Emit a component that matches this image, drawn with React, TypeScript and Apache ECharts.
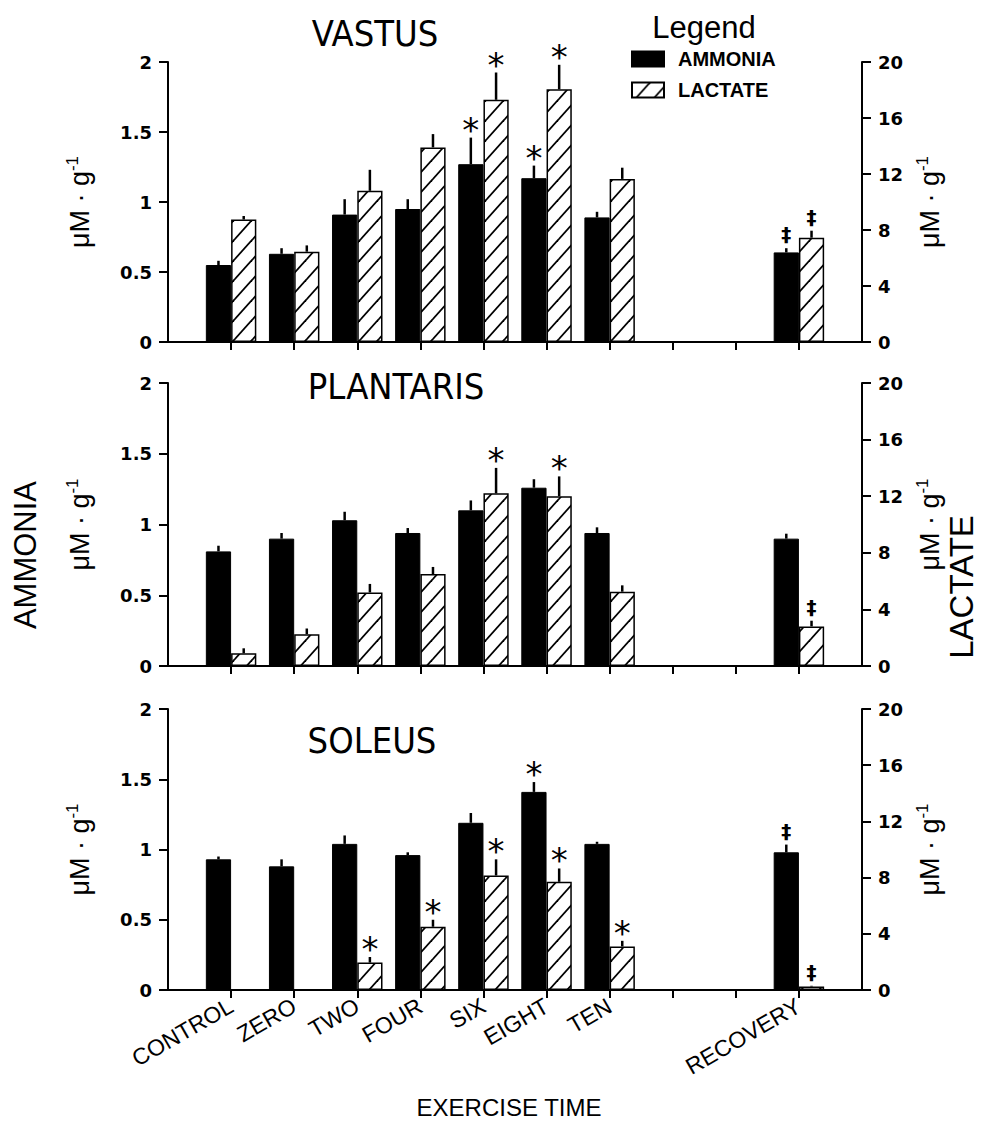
import React, { useEffect, useRef } from "react";
import * as echarts from "echarts";

// ---------- data ----------
const timeLabels = ["CONTROL", "ZERO", "TWO", "FOUR", "SIX", "EIGHT", "TEN", "", "", "RECOVERY"];
const muscles = ["VASTUS", "PLANTARIS", "SOLEUS"];
const ammoniaTicks = [0, 0.5, 1, 1.5, 2];
const lactateTicks = [0, 4, 8, 12, 16, 20];

const vastusAmmonia = [0.55, 0.63, 0.91, 0.95, 1.27, 1.17, 0.89, null, null, 0.64];
const vastusAmmoniaErr = [0.03, 0.04, 0.11, 0.07, 0.19, 0.09, 0.04, null, null, 0.03];
const vastusAmmoniaSig = ["", "", "", "", "*", "*", "", "", "", "‡"];
const vastusLactate = [8.75, 6.45, 10.8, 13.9, 17.3, 18.05, 11.65, null, null, 7.45];
const vastusLactateErr = [0.25, 0.45, 1.5, 0.95, 1.95, 1.75, 0.8, null, null, 0.5];
const vastusLactateSig = ["", "", "", "", "*", "*", "", "", "", "‡"];

const plantarisAmmonia = [0.81, 0.9, 1.03, 0.94, 1.1, 1.26, 0.94, null, null, 0.9];
const plantarisAmmoniaErr = [0.04, 0.04, 0.06, 0.035, 0.07, 0.06, 0.04, null, null, 0.035];
const plantarisAmmoniaSig = ["", "", "", "", "", "", "", "", "", ""];
const plantarisLactate = [0.9, 2.25, 5.2, 6.5, 12.2, 12.0, 5.25, null, null, 2.8];
const plantarisLactateErr = [0.35, 0.4, 0.6, 0.5, 1.8, 1.4, 0.45, null, null, 0.4];
const plantarisLactateSig = ["", "", "", "", "*", "*", "", "", "", "‡"];

const soleusAmmonia = [0.93, 0.88, 1.04, 0.96, 1.19, 1.41, 1.04, null, null, 0.98];
const soleusAmmoniaErr = [0.02, 0.05, 0.06, 0.02, 0.07, 0.07, 0.015, null, null, 0.055];
const soleusAmmoniaSig = ["", "", "", "", "", "*", "", "", "", "‡"];
const soleusLactate = [null, null, 1.95, 4.5, 8.15, 7.7, 3.1, null, null, 0.25];
const soleusLactateErr = [null, null, 0.4, 0.5, 1.15, 0.95, 0.4, null, null, 0.05];
const soleusLactateSig = ["", "", "*", "*", "*", "*", "*", "", "", "‡"];

const ammoniaData = [vastusAmmonia, plantarisAmmonia, soleusAmmonia];
const ammoniaErr = [vastusAmmoniaErr, plantarisAmmoniaErr, soleusAmmoniaErr];
const ammoniaSig = [vastusAmmoniaSig, plantarisAmmoniaSig, soleusAmmoniaSig];
const lactateData = [vastusLactate, plantarisLactate, soleusLactate];
const lactateErr = [vastusLactateErr, plantarisLactateErr, soleusLactateErr];
const lactateSig = [vastusLactateSig, plantarisLactateSig, soleusLactateSig];

// ---------- layout ----------
const GRID_LEFT = 168;
const GRID_WIDTH = 694;
const GRID_TOPS = [62, 383, 709];
const GRID_HEIGHTS = [280, 283, 281];
const TITLE_POS = [
  [375, 33],
  [396, 386],
  [372, 740],
];

const categories = ["", ...timeLabels, ""];
const pad = (a: (number | null)[]) => [null, ...a, null];

function makeHatch() {
  const w = 18;
  const h = 20;
  const c = document.createElement("canvas");
  c.width = w;
  c.height = h;
  const ctx = c.getContext("2d")!;
  ctx.fillStyle = "#fff";
  ctx.fillRect(0, 0, w, h);
  ctx.strokeStyle = "#000";
  ctx.lineWidth = 1.8;
  for (const dx of [-w, 0, w]) {
    ctx.beginPath();
    ctx.moveTo(dx - 2, h + (2 * h) / w);
    ctx.lineTo(dx + w + 2, -(2 * h) / w);
    ctx.stroke();
  }
  return { image: c, repeat: "repeat", imageWidth: w, imageHeight: h };
}

function errSeries(
  vals: (number | null)[],
  errs: (number | null)[],
  sigs: string[],
  side: number,
  p: number,
  yIdx: number
) {
  const items = vals
    .map((v, i) => ({ x: i + 1, v, e: errs[i] || 0, s: sigs[i] }))
    .filter((d) => d.v != null) as { x: number; v: number; e: number; s: string }[];
  return {
    type: "custom",
    xAxisIndex: p,
    yAxisIndex: yIdx,
    z: 5,
    silent: true,
    data: items.map((d) => [d.x, d.v, d.e]),
    renderItem: (params: any, api: any) => {
      const d = items[params.dataIndex];
      const base = api.coord([d.x, d.v]);
      const top = api.coord([d.x, d.v + d.e]);
      const bw = api.size([1, 0])[0];
      const x = base[0] + side * bw * 0.2;
      const children: any[] = [];
      if (d.e > 0) {
        children.push({
          type: "line",
          shape: { x1: x, y1: base[1], x2: x, y2: top[1] },
          style: { stroke: "#000", lineWidth: 2.5 },
        });
      }
      if (d.s) {
        const star = d.s === "*";
        children.push({
          type: "text",
          x,
          y: top[1] - (star ? 8 : 14),
          style: {
            text: d.s,
            fill: "#000",
            font: star ? "34px 'DejaVu Sans'" : "bold 20px 'DejaVu Sans'",
            textAlign: "center",
            textVerticalAlign: "middle",
          },
        });
      }
      return { type: "group", children };
    },
  };
}

function buildOption() {
  const hatch = makeHatch();
  const nameRich = {
    a: { fontSize: 27, fontFamily: "Liberation Sans", color: "#000", lineHeight: 32 },
    s: { fontSize: 17, fontFamily: "Liberation Sans", color: "#000", verticalAlign: "top", lineHeight: 32 },
  };
  const grid: any[] = [];
  const xAxis: any[] = [];
  const yAxis: any[] = [];
  const series: any[] = [];
  const graphic: any[] = [];

  for (let p = 0; p < 3; p++) {
    grid.push({ left: GRID_LEFT, width: GRID_WIDTH, top: GRID_TOPS[p], height: GRID_HEIGHTS[p] });
    const last = p === 2;
    xAxis.push({
      type: "category",
      gridIndex: p,
      data: categories,
      boundaryGap: false,
      axisLine: { lineStyle: { color: "#000", width: 2 } },
      axisTick: {
        show: true,
        length: 8,
        lineStyle: { color: "#000", width: 2 },
        interval: (i: number) => i >= 1 && i <= timeLabels.length,
      },
      axisLabel: last
        ? {
            show: true,
            interval: 0,
            rotate: 30,
            margin: 14,
            color: "#000",
            fontSize: 23,
            fontFamily: "Liberation Sans",
          }
        : { show: false },
      splitLine: { show: false },
    });
    const common = {
      type: "value",
      gridIndex: p,
      nameLocation: "middle",
      nameRotate: 90,
      nameTextStyle: { rich: nameRich },
      axisLine: { show: true, lineStyle: { color: "#000", width: 2 } },
      axisTick: { show: true, length: 9, lineStyle: { color: "#000", width: 2 } },
      axisLabel: {
        margin: 16,
        color: "#000",
        fontSize: 18,
        fontWeight: "bold",
        fontFamily: "DejaVu Sans",
      },
      splitLine: { show: false },
    };
    yAxis.push({
      ...common,
      position: "left",
      min: ammoniaTicks[0],
      max: ammoniaTicks[ammoniaTicks.length - 1],
      interval: ammoniaTicks[1] - ammoniaTicks[0],
      name: "{a|μM · g}{s|-1}",
      nameGap: 72,
    });
    yAxis.push({
      ...common,
      position: "right",
      min: lactateTicks[0],
      max: lactateTicks[lactateTicks.length - 1],
      interval: lactateTicks[1] - lactateTicks[0],
      name: "{a|μM · g}{s|-1}",
      nameGap: 44,
    });

    series.push({
      type: "bar",
      name: "AMMONIA",
      xAxisIndex: p,
      yAxisIndex: 2 * p,
      data: pad(ammoniaData[p]),
      barWidth: "40%",
      barGap: "0%",
      itemStyle: { color: "#000", borderColor: "#000", borderWidth: 1 },
      silent: true,
    });
    series.push({
      type: "bar",
      name: "LACTATE",
      xAxisIndex: p,
      yAxisIndex: 2 * p + 1,
      data: pad(lactateData[p]),
      barWidth: "40%",
      barGap: "0%",
      itemStyle: { color: hatch, borderColor: "#000", borderWidth: 1.5 },
      silent: true,
    });
    series.push(errSeries(ammoniaData[p], ammoniaErr[p], ammoniaSig[p], -1, p, 2 * p));
    series.push(errSeries(lactateData[p], lactateErr[p], lactateSig[p], 1, p, 2 * p + 1));

    graphic.push({
      type: "text",
      x: TITLE_POS[p][0],
      y: TITLE_POS[p][1],
      style: {
        text: muscles[p],
        fill: "#000",
        font: "36px 'Liberation Sans Narrow', 'DejaVu Sans Condensed', 'Liberation Sans'",
        textAlign: "center",
        textVerticalAlign: "middle",
      },
    });
  }

  graphic.push(
    {
      type: "text",
      x: 704,
      y: 27,
      style: {
        text: "Legend",
        fill: "#000",
        font: "31px 'Liberation Sans'",
        textAlign: "center",
        textVerticalAlign: "middle",
      },
    },
    {
      type: "text",
      x: 25,
      y: 555,
      rotation: Math.PI / 2,
      style: {
        text: "AMMONIA",
        fill: "#000",
        font: "31px 'Liberation Sans'",
        textAlign: "center",
        textVerticalAlign: "middle",
      },
    },
    {
      type: "text",
      x: 961,
      y: 587,
      rotation: Math.PI / 2,
      style: {
        text: "LACTATE",
        fill: "#000",
        font: "33px 'Liberation Sans'",
        textAlign: "center",
        textVerticalAlign: "middle",
      },
    },
    {
      type: "text",
      x: 509,
      y: 1107,
      style: {
        text: "EXERCISE TIME",
        fill: "#000",
        font: "24px 'Liberation Sans'",
        textAlign: "center",
        textVerticalAlign: "middle",
      },
    }
  );

  return {
    animation: false,
    backgroundColor: "#fff",
    grid,
    xAxis,
    yAxis,
    series,
    graphic,
    legend: {
      data: ["AMMONIA", "LACTATE"],
      orient: "vertical",
      left: 631,
      top: 49,
      padding: 0,
      itemWidth: 32,
      itemHeight: 15,
      itemGap: 11,
      icon: "rect",
      selectedMode: false,
      textStyle: {
        color: "#000",
        fontSize: 20,
        fontWeight: "bold",
        fontFamily: "Liberation Sans",
        padding: [0, 0, 0, 9],
      },
    },
  };
}

export default function App() {
  const ref = useRef<HTMLDivElement>(null);
  useEffect(() => {
    const chart = echarts.init(ref.current!, null, { renderer: "svg" });
    chart.setOption(buildOption() as any);
    return () => chart.dispose();
  }, []);
  return (
    <div
      ref={ref}
      style={{ position: "absolute", left: 0, top: 0, width: 981, height: 1122, background: "#fff" }}
    />
  );
}
